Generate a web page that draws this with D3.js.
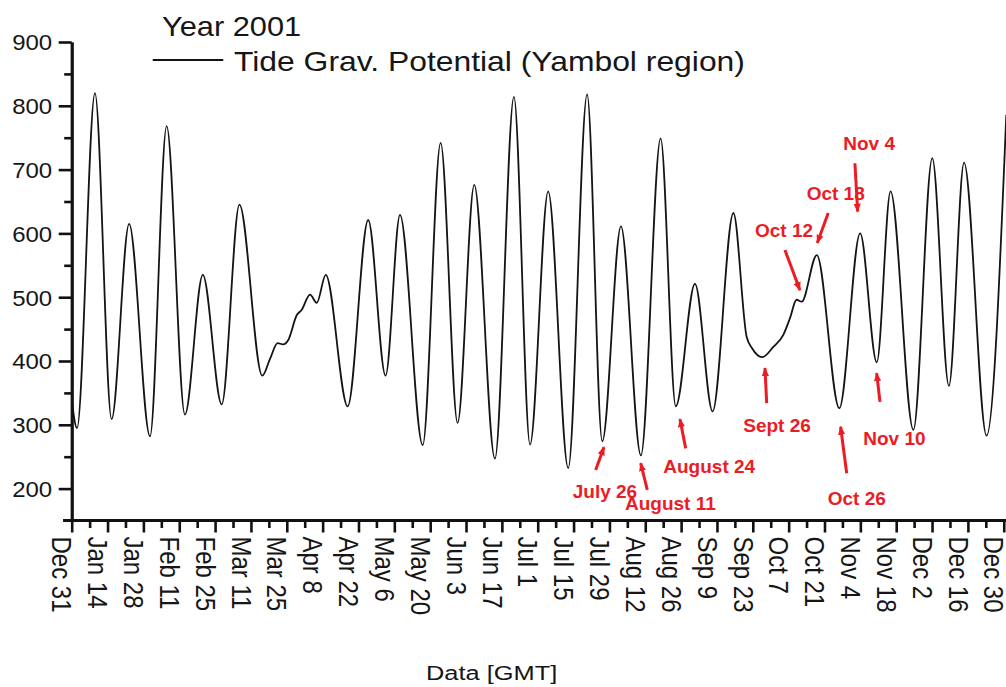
<!DOCTYPE html>
<html>
<head>
<meta charset="utf-8">
<script src="https://cdn.jsdelivr.net/npm/d3@7"></script>
<style>
  html, body { margin: 0; padding: 0; background: #ffffff; }
  svg { display: block; }
  text { font-family: "Liberation Sans", Arial, Helvetica, sans-serif; }
</style>
</head>
<body>
<svg id="chart" width="1006" height="687"></svg>
<script>
// ---------------- DATA ----------------
const chartTitle = "Year 2001";
const seriesName = "Tide Grav. Potential (Yambol region)";
const xTitle = "Data [GMT]";

// series: date (UTC, "YYYY-MM-DD HH") and potential value
const dates = [
  "2000-12-31 00","2001-01-02 02","2001-01-09 02","2001-01-15 14","2001-01-22 10",
  "2001-01-30 14","2001-02-06 02","2001-02-13 05","2001-02-20 05","2001-02-27 14",
  "2001-03-06 12","2001-03-15 10","2001-03-18 10","2001-03-21 10","2001-03-23 14",
  "2001-03-25 14","2001-03-28 22","2001-03-30 19","2001-04-03 02","2001-04-05 17",
  "2001-04-09 05","2001-04-17 19","2001-04-25 19","2001-05-02 14","2001-05-08 05",
  "2001-05-17 02","2001-05-24 02","2001-05-30 17","2001-06-06 05","2001-06-14 07",
  "2001-06-21 17","2001-06-28 00","2001-07-05 02","2001-07-12 22","2001-07-20 07",
  "2001-07-26 05","2001-08-02 12","2001-08-10 07","2001-08-18 00","2001-08-23 22",
  "2001-08-31 10","2001-09-07 07","2001-09-15 10","2001-09-20 14","2001-09-22 17",
  "2001-09-26 17","2001-10-01 00","2001-10-04 22","2001-10-07 12","2001-10-10 02",
  "2001-10-12 02","2001-10-18 00","2001-10-26 19","2001-11-03 22","2001-11-10 10",
  "2001-11-15 19","2001-11-24 17","2001-12-02 02","2001-12-08 14","2001-12-14 12",
  "2001-12-23 07","2001-12-31 00"
];
const values = [
  340, 295, 820, 309, 615,
  282, 768, 316, 535, 332,
  645, 377, 403, 428, 426,
  433, 472, 480, 504, 491,
  535, 329, 621, 377, 629,
  268, 742, 303, 676, 247,
  814, 269, 666, 232, 818,
  274, 611, 252, 749, 329,
  521, 321, 632, 438, 420,
  406, 422, 441, 467, 496,
  493, 566, 326, 600, 398,
  666, 292, 718, 361, 711,
  283, 786
];

// axes
const xDomain = ["2000-12-31", "2001-12-31"];
const xTickDates = [
  "2000-12-31","2001-01-14","2001-01-28","2001-02-11","2001-02-25","2001-03-11",
  "2001-03-25","2001-04-08","2001-04-22","2001-05-06","2001-05-20","2001-06-03",
  "2001-06-17","2001-07-01","2001-07-15","2001-07-29","2001-08-12","2001-08-26",
  "2001-09-09","2001-09-23","2001-10-07","2001-10-21","2001-11-04","2001-11-18",
  "2001-12-02","2001-12-16","2001-12-30"
];
const xTickLabels = [
  "Dec 31","Jan 14","Jan 28","Feb 11","Feb 25","Mar 11","Mar 25","Apr 8","Apr 22",
  "May 6","May 20","Jun 3","Jun 17","Jul 1","Jul 15","Jul 29","Aug 12","Aug 26",
  "Sep 9","Sep 23","Oct 7","Oct 21","Nov 4","Nov 18","Dec 2","Dec 16","Dec 30"
];
const yDomain = [150, 900];
const yTicks = [200, 300, 400, 500, 600, 700, 800, 900];
const yTickLabels = ["200","300","400","500","600","700","800","900"];
const yMinorTicks = [250, 350, 450, 550, 650, 750, 850];

// red annotations (in data coordinates)
const annoLabels  = ["July 26","August 11","August 24","Sept 26","Oct 26","Nov 10","Oct 12","Oct 18","Nov 4"];
const annoTextDate = ["2001-07-14 16","2001-08-04 02","2001-08-19 01","2001-09-19 06","2001-10-22 06",
                      "2001-11-05 03","2001-09-23 20","2001-10-14 01","2001-10-28 08"];
const annoTextVal  = [185, 166, 224, 289, 174, 268, 595, 653, 730];
const arrowFromDate = ["2001-07-23 15","2001-08-12 19","2001-08-27 19","2001-09-28 10","2001-10-29 16",
                       "2001-11-11 16","2001-10-05 13","2001-10-22 11","2001-11-01 21"];
const arrowFromVal  = [229, 198, 263, 334, 224, 336, 574, 632, 710];
const arrowToDate   = ["2001-07-26 21","2001-08-10 05","2001-08-25 13","2001-09-27 18","2001-10-27 07",
                       "2001-11-10 09","2001-10-11 10","2001-10-18 04","2001-11-02 23"];
const arrowToVal    = [265, 240, 309, 389, 297, 381, 511, 585, 634];

// ---------------- DRAWING ----------------
const W = 1006, H = 687;
const plot = { left: 71.7, right: 1006.3, top: 42, bottom: 520.5 };
const RED = "#ec1c24";

const parseH = d3.utcParse("%Y-%m-%d %H");
const parseD = d3.utcParse("%Y-%m-%d");

const series = dates.map((d, i) => ({ t: parseH(d), v: values[i] }));

const x = d3.scaleUtc().domain(xDomain.map(parseD)).range([plot.left, plot.right]);
const y = d3.scaleLinear().domain(yDomain).range([plot.bottom, plot.top]);

const svg = d3.select("#chart");

svg.append("defs").append("clipPath").attr("id", "clip")
  .append("rect")
  .attr("x", plot.left).attr("y", 0)
  .attr("width", W - plot.left).attr("height", plot.bottom);

svg.select("defs").append("marker")
  .attr("id", "arrowhead")
  .attr("viewBox", "0 0 10 8")
  .attr("refX", 9).attr("refY", 4)
  .attr("markerUnits", "userSpaceOnUse")
  .attr("markerWidth", 9).attr("markerHeight", 7.5)
  .attr("orient", "auto")
  .append("path").attr("d", "M0,0 L10,4 L0,8 Z").attr("fill", RED);

// series line
const line = d3.line()
  .x(d => x(d.t))
  .y(d => y(d.v))
  .curve(d3.curveMonotoneX);

svg.append("path")
  .datum(series)
  .attr("clip-path", "url(#clip)")
  .attr("fill", "none")
  .attr("stroke", "#141414")
  .attr("stroke-width", 1.8)
  .attr("stroke-linejoin", "round")
  .attr("d", line);

// Y axis
const yAxisG = svg.append("g").attr("transform", `translate(${plot.left},0)`);
yAxisG.call(d3.axisLeft(y).tickValues(yMinorTicks).tickSize(7.5).tickSizeOuter(0).tickFormat(""));
yAxisG.call(g => g.selectAll("text").remove());
const yMajorG = svg.append("g").attr("transform", `translate(${plot.left},0)`);
yMajorG.call(d3.axisLeft(y).tickValues(yTicks).tickSize(13).tickSizeOuter(0)
  .tickFormat((d, i) => yTickLabels[i]));
[yAxisG, yMajorG].forEach(g => {
  g.selectAll("path.domain").attr("stroke", "#111").attr("stroke-width", 2.8);
  g.selectAll(".tick line").attr("stroke", "#111").attr("stroke-width", 2.6);
});
yMajorG.selectAll(".tick text")
  .attr("x", null).attr("dy", null)
  .attr("transform", "translate(-19.5,7.8) scale(1.09,1)")
  .attr("text-anchor", "end")
  .attr("font-size", 22)
  .attr("fill", "#161616")
  .attr("font-family", "'Liberation Sans', Arial, sans-serif");

// X axis
const xAxisY = y(yDomain[0]);
const minorX = d3.utcDay.range(parseD("2001-01-07"), x.domain()[1], 14);
const xMinorG = svg.append("g").attr("transform", `translate(0,${xAxisY})`);
xMinorG.call(d3.axisBottom(x).tickValues(minorX).tickSize(7.5).tickSizeOuter(0).tickFormat(""));
xMinorG.selectAll("text").remove();
const xMajorG = svg.append("g").attr("transform", `translate(0,${xAxisY})`);
xMajorG.call(d3.axisBottom(x).tickValues(xTickDates.map(parseD)).tickSize(12).tickSizeOuter(0)
  .tickFormat((d, i) => xTickLabels[i]));
[xMinorG, xMajorG].forEach(g => {
  g.selectAll("path.domain")
    .attr("d", `M${plot.left - 8.5},0H${W}`)
    .attr("stroke", "#111").attr("stroke-width", 2.8);
  g.selectAll(".tick line").attr("stroke", "#111").attr("stroke-width", 2.6);
});
xMajorG.selectAll(".tick text")
  .attr("x", null).attr("y", null).attr("dy", null)
  .attr("text-anchor", "start")
  .attr("font-size", 24)
  .attr("fill", "#161616")
  .attr("font-family", "'Liberation Sans', Arial, sans-serif")
  .attr("transform", "translate(0,16) rotate(90) scale(1,1.15)")
  .attr("dy", 17.2);

// Title & legend
svg.append("text")
  .attr("transform", "translate(162,36) scale(1.14,1)")
  .attr("font-size", 27).attr("fill", "#161616")
  .text(chartTitle);

svg.append("line")
  .attr("x1", 152.7).attr("x2", 223.3).attr("y1", 60).attr("y2", 60)
  .attr("stroke", "#141414").attr("stroke-width", 1.8);
svg.append("text")
  .attr("transform", "translate(234,71) scale(1.18,1)")
  .attr("font-size", 27).attr("fill", "#161616")
  .text(seriesName);

// X axis title
svg.append("text")
  .attr("transform", "translate(426,680) scale(1.27,1)")
  .attr("font-size", 20).attr("fill", "#161616")
  .text(xTitle);

// Red annotations
const annos = annoLabels.map((lab, i) => ({
  lab,
  tx: x(parseH(annoTextDate[i])), ty: y(annoTextVal[i]),
  x1: x(parseH(arrowFromDate[i])), y1: y(arrowFromVal[i]),
  x2: x(parseH(arrowToDate[i])), y2: y(arrowToVal[i])
}));

svg.append("g").selectAll("line").data(annos).join("line")
  .attr("x1", d => d.x1).attr("y1", d => d.y1)
  .attr("x2", d => d.x2).attr("y2", d => d.y2)
  .attr("stroke", RED).attr("stroke-width", 3)
  .attr("marker-end", "url(#arrowhead)");

svg.append("g").selectAll("text").data(annos).join("text")
  .attr("x", d => d.tx).attr("y", d => d.ty)
  .attr("font-size", 19).attr("font-weight", "bold")
  .attr("fill", RED)
  .text(d => d.lab);
</script>
</body>
</html>
